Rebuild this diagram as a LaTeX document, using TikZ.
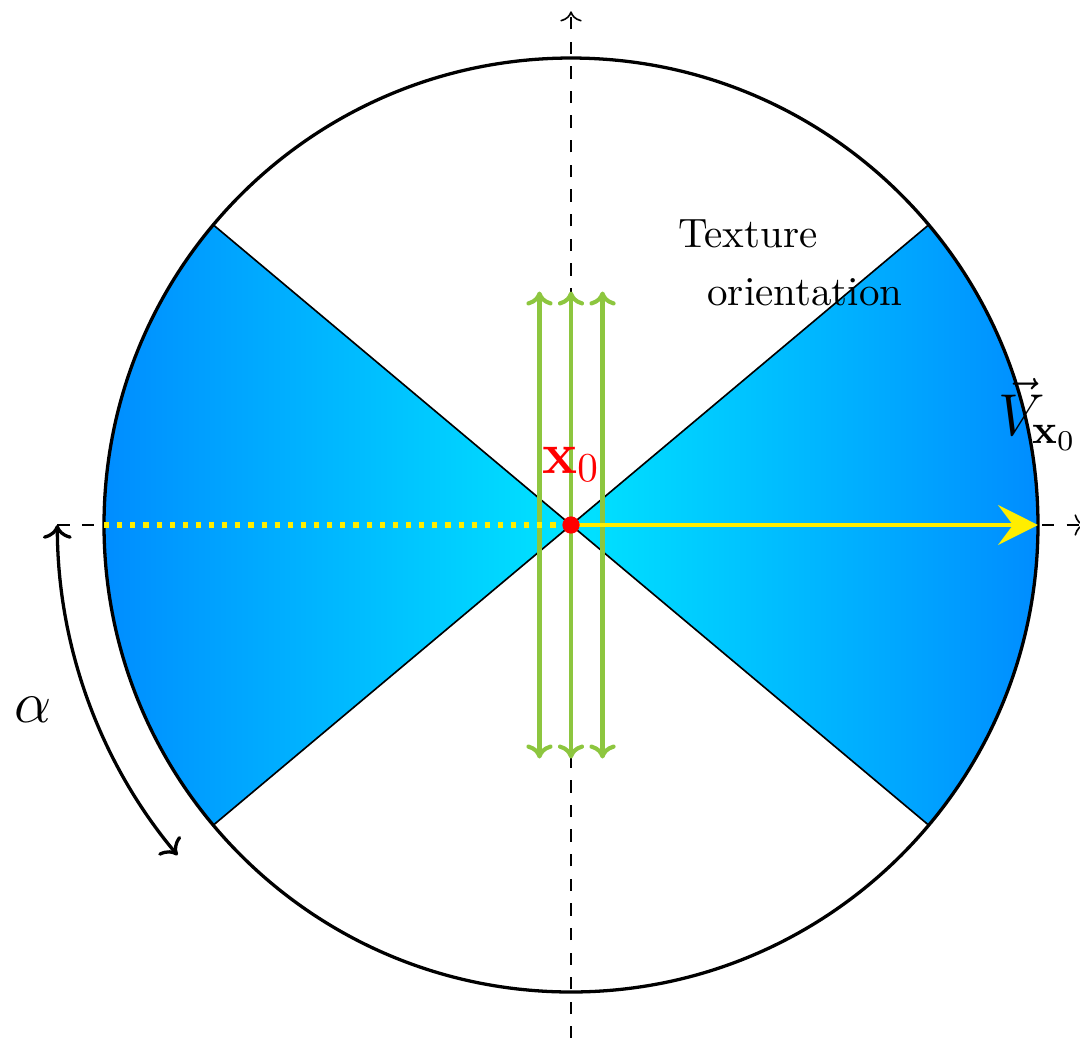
\documentclass[tikz,border=0pt]{standalone}
\usetikzlibrary{arrows.meta}
\definecolor{cblue}{RGB}{0,134,255}
\definecolor{ccyan}{RGB}{0,228,255}
\definecolor{cgreen}{RGB}{141,198,63}
\definecolor{cyel}{RGB}{255,238,0}
\tikzset{
  axisline/.style={dashed, thin, ->},
  greenarrow/.style={cgreen, line width=1pt, {Computer Modern Rightarrow[length=3.4pt,width=6.4pt]}-{Computer Modern Rightarrow[length=3.4pt,width=6.4pt]}},
  lbl/.style={inner sep=0pt},
}
\begin{document}
\begin{tikzpicture}
\useasboundingbox (-4.891,-4.394) rectangle (4.360,4.497);
\coordinate (O) at (0,0);
% axes
\coordinate (xl) at (-4.4,0);
\coordinate (xr) at (4.4,0);
\coordinate (yb) at (0,-4.4);
\coordinate (yt) at (0,4.4);
\draw[axisline] (xl) -- (xr);
\draw[axisline] (yb) -- (yt);
% shaded sectors
\shade[left color=cblue, right color=ccyan] (O) -- (220:4) arc (220:140:4) -- cycle;
\shade[left color=ccyan, right color=cblue] (O) -- (-40:4) arc (-40:40:4) -- cycle;
\coordinate (ul) at (140:4);
\coordinate (ur) at (40:4);
\coordinate (ll) at (220:4);
\coordinate (lr) at (-40:4);
\draw[thin] (ll) -- (ur);
\draw[thin] (ul) -- (lr);
\draw[thick] (O) circle (4);
% green arrows
\coordinate (g1b) at (-0.27,-2);
\coordinate (g1t) at (-0.27,2);
\coordinate (g2b) at (0,-2);
\coordinate (g2t) at (0,2);
\coordinate (g3b) at (0.27,-2);
\coordinate (g3t) at (0.27,2);
\draw[greenarrow] (g1b) -- (g1t);
\draw[greenarrow] (g2b) -- (g2t);
\draw[greenarrow] (g3b) -- (g3t);
% yellow
\coordinate (yl) at (-4,0);
\coordinate (yr) at (4,0);
\draw[cyel, line width=1.25pt, dash pattern=on 1.25pt off 1.95pt] (yl) -- (O);
\draw[cyel, line width=1.2pt, -{Stealth[length=9.7pt,width=9.7pt,inset=3.6pt]}] (O) -- (yr);
% red dot
\fill[red] (O) circle (2.1pt);
% alpha arc
\coordinate (a1) at (180:4.4);
\draw[thick, <->] (a1) arc (180:220:4.4);
% labels
\node[lbl, text=red, font=\Large] (x0) at (0,0.52) {$\mathbf{x}_0$};
\node[lbl, font=\Large] (V) at (4.0,0.95) {$\vec{V}_{\mathbf{x}_0}$};
\node[lbl, anchor=base] (tex) at (1.516,2.373) {Texture};
\node[lbl, anchor=base] (ori) at (2.004,1.884) {orientation};
\node[lbl, font=\Large] (al) at (-4.61,-1.585) {$\alpha$};
\end{tikzpicture}
\end{document}
